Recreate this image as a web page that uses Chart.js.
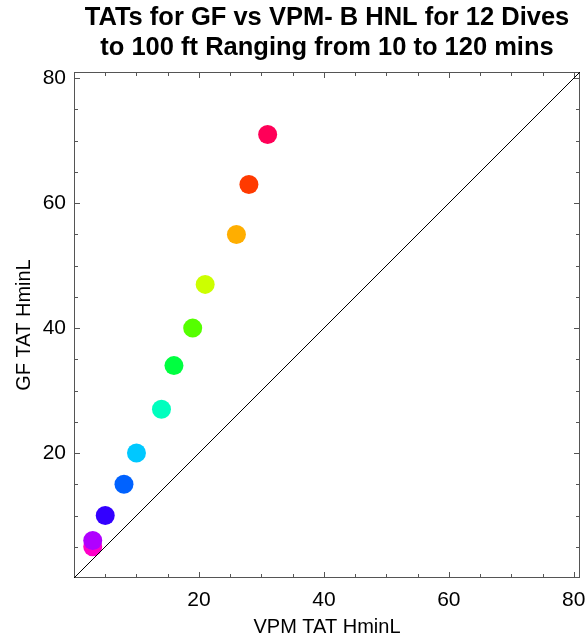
<!DOCTYPE html>
<html>
<head>
<meta charset="utf-8">
<script src="https://cdn.jsdelivr.net/npm/chart.js@4.4.1/dist/chart.umd.min.js"></script>
<style>
  html, body { margin: 0; padding: 0; background: #fff; }
  canvas { display: block; }
</style>
</head>
<body>
<canvas id="chart" width="585" height="643"></canvas>
<script>
// ===== TATs for GF vs VPM-B =====
const titleLines = ['TATs for GF vs VPM- B HNL for 12 Dives', 'to 100 ft Ranging from 10 to 120 mins'];
const xTitle = 'VPM TAT HminL';
const yTitle = 'GF TAT HminL';

// one dot per dive (10 .. 120 min bottom time)
const vpmTat = [3, 3, 5, 8, 10, 14, 16, 19, 21, 26, 28, 31];
const gfTat = [5, 6, 10, 15, 20, 27, 34, 40, 47, 55, 63, 71];
const dotColors = ['#ff00c8', '#b000ff', '#3300ff', '#0062ff', '#00c8ff', '#00ffbe',
    '#00ff40', '#55ff00', '#ccff00', '#ffae00', '#ff3a00', '#ff0058'];

const tickValues = [20, 40, 60, 80];
const minorStep = 5;
const axisMin = 0;
const axisMax = 81;

const FONT = '"Liberation Sans", Arial, Helvetica, sans-serif';

// frame with inward ticks on all four sides (Mathematica style)
const framePlugin = {
    id: 'frame',
    beforeDatasetsDraw(chart) {
        const { ctx, chartArea: a, scales: { x, y } } = chart;
        ctx.save();
        ctx.strokeStyle = '#555';
        ctx.lineWidth = 1;
        ctx.strokeRect(a.left + 0.5, a.top + 0.5, a.right - a.left - 1, a.bottom - a.top - 1);
        ctx.beginPath();
        for (let v = minorStep; v < axisMax; v += minorStep) {
            const len = v % 20 === 0 ? 6 : 4;
            const px = Math.round(x.getPixelForValue(v)) + 0.5;
            const py = Math.round(y.getPixelForValue(v)) + 0.5;
            ctx.moveTo(px, a.bottom); ctx.lineTo(px, a.bottom - len);
            ctx.moveTo(px, a.top); ctx.lineTo(px, a.top + len);
            ctx.moveTo(a.left, py); ctx.lineTo(a.left + len, py);
            ctx.moveTo(a.right, py); ctx.lineTo(a.right - len, py);
        }
        ctx.stroke();
        ctx.restore();
    }
};

new Chart(document.getElementById('chart'), {
    type: 'scatter',
    data: {
        datasets: [
            {
                type: 'line',
                data: [{ x: axisMin, y: axisMin }, { x: axisMax, y: axisMax }],
                borderColor: '#000',
                borderWidth: 1,
                pointRadius: 0,
                fill: false,
            },
            {
                data: vpmTat.map((v, i) => ({ x: v, y: gfTat[i] })),
                pointRadius: 9.5,
                pointBackgroundColor: dotColors,
                pointBorderWidth: 0,
                borderWidth: 0,
            },
        ]
    },
    options: {
        responsive: false,
        animation: false,
        layout: { autoPadding: false, padding: { left: 0, right: 5, top: 0, bottom: 0 } },
        plugins: {
            legend: { display: false },
            tooltip: { enabled: false },
            title: {
                display: true,
                fullSize: false,
                text: titleLines,
                color: '#000',
                font: { family: FONT, size: 25.5, weight: 'bold', lineHeight: 30 / 25.5 },
                padding: { top: 3, bottom: 9 },
            },
        },
        scales: {
            x: {
                type: 'linear', min: axisMin, max: axisMax,
                grid: { display: false, drawTicks: false },
                border: { display: false },
                afterBuildTicks: s => { s.ticks = tickValues.map(v => ({ value: v })); },
                // let the last label run off the edge like the original
                afterFit: s => { s.height = 65; s.paddingLeft = 0; s.paddingRight = 0; },
                ticks: { color: '#000', font: { family: FONT, size: 21 }, padding: 10, maxRotation: 0 },
                title: { display: true, text: xTitle, color: '#000', font: { family: FONT, size: 20 }, padding: { top: 0, bottom: 4 } },
            },
            y: {
                type: 'linear', min: axisMin, max: axisMax,
                grid: { display: false, drawTicks: false },
                border: { display: false },
                afterBuildTicks: s => { s.ticks = tickValues.map(v => ({ value: v })); },
                afterFit: s => { s.width = 74; s.paddingTop = 0; s.paddingBottom = 0; },
                ticks: { color: '#000', font: { family: FONT, size: 21 }, padding: 8 },
                title: { display: true, text: yTitle, color: '#000', font: { family: FONT, size: 20 }, padding: { top: 12, bottom: 0 } },
            },
        },
    },
    plugins: [framePlugin],
});
</script>
</body>
</html>
